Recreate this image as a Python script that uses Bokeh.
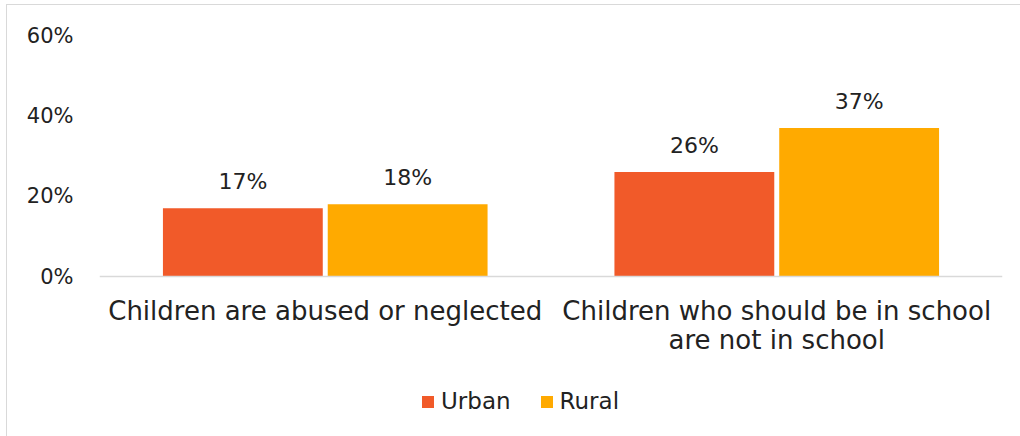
from bokeh.plotting import figure
from bokeh.models import (ColumnDataSource, FactorRange, Range1d, FixedTicker, NumeralTickFormatter,
                          LabelSet, Legend, LegendItem, Span)
from bokeh.core.properties import value
from bokeh.transform import dodge
from bokeh.embed import file_html
from bokeh.resources import INLINE

categories = ["Children are abused or neglected", "Children who should be in school\nare not in school"]
series = ["Urban", "Rural"]
urban = [0.17, 0.26]
rural = [0.18, 0.37]
y_ticks = [0, 0.2, 0.4, 0.6]
colors = ["#F15A29", "#FFAA00"]

FONT = "DejaVu Sans"
TXT = "#222222"

split = [c.split("\n") for c in categories]
src = ColumnDataSource(dict(
    cat=categories,
    zero=[0] * len(categories),
    line1=[s[0] for s in split],
    line2=[s[1] if len(s) > 1 else "" for s in split],
    Urban=urban,
    Rural=rural,
    Urban_lbl=[f"{round(v*100)}%" for v in urban],
    Rural_lbl=[f"{round(v*100)}%" for v in rural],
))

# plot area: 0..60% occupies the top 241px; the lower 160px holds category labels and legend
Y_MAX = 0.6
Y_MIN = -Y_MAX * 160 / 241

p = figure(frame_width=903, frame_height=401, output_backend="svg", toolbar_location=None,
           x_range=FactorRange(*categories, range_padding=0),
           y_range=Range1d(Y_MIN, Y_MAX),
           min_border_left=92, min_border_right=18, min_border_top=30, min_border_bottom=0)
p.styles = {"margin-left": "6px", "margin-top": "4px",
            "border-left": "1px solid #d9d9d9", "border-top": "1px solid #d9d9d9"}
p.outline_line_color = None
p.xgrid.grid_line_color = None
p.ygrid.grid_line_color = None
p.xaxis.visible = False

baseline = Span(location=0, dimension="width", line_color="#d9d9d9", line_width=1.5)
p.add_layout(baseline)

off = 0.1825
bw = 0.354
items = []
for s, c, o in zip(series, colors, [-off, off]):
    r = p.vbar(x=dodge("cat", o, range=p.x_range), top=s, width=bw, source=src,
               fill_color=c, line_color=None)
    items.append(LegendItem(label=s, renderers=[r]))
    lbl = LabelSet(x=dodge("cat", o, range=p.x_range), y=s, text=s + "_lbl", source=src,
                   text_align="center", text_baseline="bottom", y_offset=14,
                   text_font=value(FONT), text_font_size="22px", text_color=TXT)
    p.add_layout(lbl)

for col, yoff in [("line1", -19), ("line2", -48)]:
    cat_labels = LabelSet(x="cat", y="zero", text=col, source=src,
                          text_align="center", text_baseline="top", y_offset=yoff,
                          text_font=value(FONT), text_font_size="26px", text_color=TXT)
    p.add_layout(cat_labels)

p.yaxis.ticker = FixedTicker(ticks=y_ticks)
p.yaxis.formatter = NumeralTickFormatter(format="0%")
p.yaxis.axis_line_color = None
p.yaxis.major_tick_line_color = None
p.yaxis.minor_tick_line_color = None
p.yaxis.major_label_standoff = 20
p.yaxis.major_label_text_font = FONT
p.yaxis.major_label_text_font_size = "21px"
p.yaxis.major_label_text_color = TXT

legend = Legend(items=items, orientation="horizontal", location=(321, 22),
                label_text_font=FONT, label_text_font_size="23px", label_text_color=TXT,
                glyph_width=15, glyph_height=15, spacing=28, label_standoff=6,
                border_line_color=None, background_fill_alpha=0, margin=0, padding=0)
p.add_layout(legend, "center")

open("out.html", "w").write(file_html(p, INLINE))
